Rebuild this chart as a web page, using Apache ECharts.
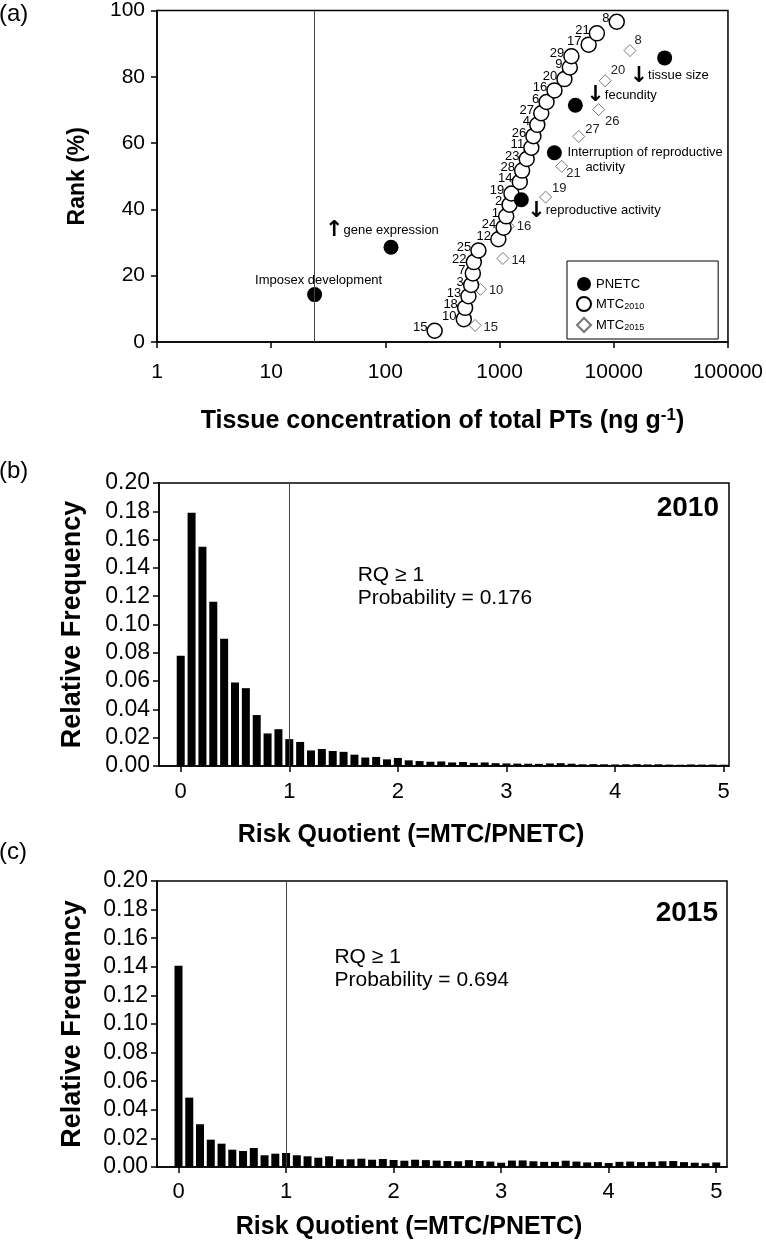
<!DOCTYPE html>
<html>
<head>
<meta charset="utf-8">
<title>PTs tissue concentration and risk quotient</title>
<script src="https://cdn.jsdelivr.net/npm/echarts@6/dist/echarts.min.js"></script>
<style>
    html, body {margin: 0; padding: 0; background: #fff;}
    #main {width: 766px; height: 1241px;}
</style>
</head>
<body>
<div id="main"></div>
<script>
/*
* (a) 物种敏感度分布 + (b)(c) 风险商分布
* */

// ---- (a) data ----
var pnetcX = [24, 112, 1550, 3020, 4610, 27900];
var pnetcY = [14.3, 28.6, 42.9, 57.1, 71.4, 85.7];
var pnetcEffect = ['Imposex development', 'gene expression', 'reproductive activity',
    'Interruption of reproductive activity', 'fecundity', 'tissue size'];
var pnetcArrow = ['', 'up', 'down', '', 'down', 'down'];

var mtc2010Id = ['15', '10', '18', '13', '3', '7', '22', '25', '12', '24', '1', '2', '19', '14',
    '28', '23', '11', '26', '4', '27', '6', '16', '20', '9', '29', '17', '21', '8'];
var mtc2010X = [270, 486, 499, 534, 563, 583, 595, 653, 975, 1084, 1143, 1222, 1270, 1503,
    1575, 1728, 1898, 1977, 2139, 2317, 2578, 3026, 3698, 4121, 4257, 6025, 7116, 10620];
var mtc2010Y = [3.4, 6.9, 10.3, 13.8, 17.2, 20.7, 24.1, 27.6, 31.0, 34.5, 37.9, 41.4, 44.8, 48.3,
    51.7, 55.2, 58.6, 62.1, 65.5, 69.0, 72.4, 75.9, 79.3, 82.8, 86.2, 89.7, 93.1, 96.6];

var mtc2015Id = ['15', '10', '14', '16', '19', '21', '27', '26', '20', '8'];
var mtc2015X = [610, 679, 1069, 1191, 2529, 3500, 4934, 7362, 8410, 13860];
var mtc2015Y = [5.0, 15.9, 25.2, 34.9, 43.7, 53.0, 62.0, 70.1, 78.8, 87.9];

var imposexLine = 24;

// ---- (b)(c) data ----
var rqBins = [0.0, 0.1, 0.2, 0.3, 0.4, 0.5, 0.6, 0.7, 0.8, 0.9,
    1.0, 1.1, 1.2, 1.3, 1.4, 1.5, 1.6, 1.7, 1.8, 1.9,
    2.0, 2.1, 2.2, 2.3, 2.4, 2.5, 2.6, 2.7, 2.8, 2.9,
    3.0, 3.1, 3.2, 3.3, 3.4, 3.5, 3.6, 3.7, 3.8, 3.9,
    4.0, 4.1, 4.2, 4.3, 4.4, 4.5, 4.6, 4.7, 4.8, 4.9, 5.0];
var freq2010 = [0.078, 0.179, 0.155, 0.116, 0.090, 0.059, 0.055, 0.036, 0.023, 0.026,
    0.019, 0.017, 0.011, 0.012, 0.0106, 0.010, 0.008, 0.006, 0.0064, 0.0047,
    0.0057, 0.0040, 0.0035, 0.0030, 0.0032, 0.0025, 0.0028, 0.0022, 0.0025, 0.0020,
    0.0018, 0.0017, 0.0016, 0.0015, 0.0018, 0.0020, 0.0016, 0.0012, 0.0013, 0.0012,
    0.0011, 0.0012, 0.0013, 0.0011, 0.0012, 0.0010, 0.0009, 0.0011, 0.0010, 0.0010, 0.0009];
var freq2015 = [0.1407, 0.0485, 0.0299, 0.0191, 0.0163, 0.0121, 0.0112, 0.0133, 0.0082, 0.0093,
    0.0098, 0.0082, 0.0075, 0.0065, 0.0075, 0.0054, 0.0054, 0.0058, 0.0051, 0.0056,
    0.0049, 0.0044, 0.0051, 0.0048, 0.0045, 0.0042, 0.0040, 0.0048, 0.0042, 0.0038,
    0.0030, 0.0045, 0.0046, 0.0040, 0.0036, 0.0036, 0.0044, 0.0038, 0.0032, 0.0034,
    0.0028, 0.0036, 0.0038, 0.0034, 0.0036, 0.0040, 0.0042, 0.0034, 0.0030, 0.0026, 0.0032];
var rqTicks = [0, 1, 2, 3, 4, 5];
var rqLimit = 1;
var prob2010 = 0.176;
var prob2015 = 0.694;

// ---- styles ----
var FONT = "'Liberation Sans', Arial, sans-serif";

// 标签偏移 (相对点中心)
var pnetcLabelOffset = [[4, -14], [-66, -17], [6, 11], [13, 7], [11, -10], [-35, 18]];
var mtc2015LabelOffset = [[0, 2], [0, 1], [0, 2], [0, 0], [-2, -9], [-4, 7], [-2, -7], [-2, 12], [-3, -10], [-4, -10]];

function arrowOf(dir) {
    if (dir === 'up') return '{arr|↑}';
    if (dir === 'down') return '{arr|↓}';
    return '';
}

function axisBase(idx) {
    return {
        gridIndex: idx,
        axisLine: {show: true, onZero: false, lineStyle: {color: '#000', width: 1.5}},
        axisTick: {show: true, inside: false, length: 6, lineStyle: {color: '#000', width: 1.5}},
        splitLine: {show: false},
        minorTick: {show: false}
    };
}

function ext(a, b) {
    for (var k in b) a[k] = b[k];
    return a;
}

var myChart = echarts.init(document.getElementById('main'));

var pnetcData = pnetcX.map(function (x, i) {
    var isTop = i === 0;
    var text;
    if (i === 3) {
        text = '{t|Interruption of reproductive}\n{t2|activity}';
    } else {
        text = arrowOf(pnetcArrow[i]) + '{t|' + pnetcEffect[i] + '}';
    }
    return {
        value: [x, pnetcY[i]],
        label: {
            show: true,
            position: 'inside',
            align: isTop ? 'center' : 'left',
            verticalAlign: 'middle',
            offset: pnetcLabelOffset[i],
            formatter: text
        }
    };
});

var mtc2010Data = mtc2010X.map(function (x, i) {
    return {value: [x, mtc2010Y[i]], name: mtc2010Id[i]};
});

var mtc2015Data = mtc2015X.map(function (x, i) {
    return {
        value: [x, mtc2015Y[i]], name: mtc2015Id[i],
        label: {offset: mtc2015LabelOffset[i]}
    };
});

function rqSeries(idx, freq, prob, textCoord) {
    return {
        name: 'RQ' + idx,
        type: 'bar',
        xAxisIndex: idx,
        yAxisIndex: idx,
        barWidth: 8,
        itemStyle: {color: '#000'},
        data: rqBins.map(function (x, i) {
            return [x, freq[i]];
        }),
        markLine: {
            silent: true,
            symbol: 'none',
            label: {show: false},
            lineStyle: {color: '#444', width: 1, type: 'solid'},
            data: [{xAxis: rqLimit}]
        },
        markPoint: {
            silent: true,
            symbol: 'circle',
            symbolSize: 0,
            data: [{
                coord: textCoord,
                label: {
                    show: true,
                    position: 'inside',
                    align: 'left',
                    verticalAlign: 'middle',
                    color: '#000',
                    fontFamily: FONT,
                    fontSize: 21,
                    lineHeight: 23,
                    formatter: 'RQ ≥ 1\nProbability = ' + prob.toFixed(3)
                }
            }]
        }
    };
}

var titleStyle = {fontSize: 24, fontWeight: 'normal', color: '#000', fontFamily: FONT};
var yearStyle = {fontSize: 28, fontWeight: 'bold', color: '#000', fontFamily: FONT};

var option = {
    animation: false,
    backgroundColor: '#fff',
    textStyle: {fontFamily: FONT, color: '#000'},
    title: [
        {text: '(a)', left: -1, top: 2, padding: 0, textStyle: titleStyle},
        {text: '(b)', left: -1, top: 459, padding: 0, textStyle: titleStyle},
        {text: '(c)', left: -1, top: 840, padding: 0, textStyle: titleStyle},
        {text: '2010', right: 47, top: 494, padding: 0, textStyle: yearStyle},
        {text: '2015', right: 48, top: 899, padding: 0, textStyle: yearStyle}
    ],
    legend: {
        orient: 'vertical',
        left: 567,
        top: 261,
        padding: [16, 74, 6, 9],
        itemGap: 5,
        itemWidth: 14,
        itemHeight: 14,
        borderColor: '#000',
        borderWidth: 1,
        data: ['PNETC', 'MTC2010', 'MTC2015'],
        formatter: function (n) {
            return n === 'PNETC' ? n : 'MTC{sub|' + n.slice(3) + '}';
        },
        textStyle: {
            fontSize: 13, color: '#000', fontFamily: FONT,
            rich: {sub: {fontSize: 9, padding: [6, 0, 0, 0], fontFamily: FONT}}
        }
    },
    grid: [
        {left: 157, top: 10, width: 575, height: 332, show: true, borderColor: '#000', borderWidth: 1.5},
        {left: 159, top: 483, width: 570, height: 283, show: true, borderColor: '#000', borderWidth: 1.5},
        {left: 157, top: 881, width: 570, height: 286, show: true, borderColor: '#000', borderWidth: 1.5}
    ],
    xAxis: [
        ext(axisBase(0), {
            type: 'log',
            logBase: 10,
            min: 1,
            max: 100000,
            axisLabel: {
                fontSize: 21, color: '#000', margin: 20, fontFamily: FONT,
                formatter: function (v) {
                    return String(Math.round(v));
                }
            },
            name: 'Tissue concentration of total PTs (ng g{sup|-1})',
            nameLocation: 'middle',
            nameGap: 79,
            nameTextStyle: {
                fontSize: 25, fontWeight: 'bold', color: '#000', fontFamily: FONT, verticalAlign: 'middle',
                rich: {sup: {fontSize: 17, fontWeight: 'bold', fontFamily: FONT, padding: [0, 0, 12, 0]}}
            }
        }),
        ext(axisBase(1), {
            type: 'value',
            min: -0.2,
            max: 5.05,
            axisTick: {show: true, length: 6, customValues: rqTicks, lineStyle: {color: '#000', width: 1.5}},
            axisLabel: {fontSize: 22, color: '#000', margin: 15, fontFamily: FONT, customValues: rqTicks},
            name: 'Risk Quotient (=MTC/PNETC)',
            nameLocation: 'middle',
            nameGap: 69,
            nameTextStyle: {fontSize: 25, fontWeight: 'bold', color: '#000', fontFamily: FONT, verticalAlign: 'middle', padding: [0, 66, 0, 0]}
        }),
        ext(axisBase(2), {
            type: 'value',
            min: -0.2,
            max: 5.1,
            axisTick: {show: true, length: 6, customValues: rqTicks, lineStyle: {color: '#000', width: 1.5}},
            axisLabel: {fontSize: 22, color: '#000', margin: 14, fontFamily: FONT, customValues: rqTicks},
            name: 'Risk Quotient (=MTC/PNETC)',
            nameLocation: 'middle',
            nameGap: 60,
            nameTextStyle: {fontSize: 25, fontWeight: 'bold', color: '#000', fontFamily: FONT, verticalAlign: 'middle', padding: [0, 66, 0, 0]}
        })
    ],
    yAxis: [
        ext(axisBase(0), {
            type: 'value',
            min: 0,
            max: 100,
            interval: 20,
            axisLabel: {fontSize: 21, color: '#000', margin: 12, fontFamily: FONT},
            name: 'Rank (%)',
            nameLocation: 'middle',
            nameGap: 79,
            nameTextStyle: {fontSize: 23, fontWeight: 'bold', color: '#000', fontFamily: FONT, verticalAlign: 'middle'}
        }),
        ext(axisBase(1), {
            type: 'value',
            min: 0,
            max: 0.2,
            interval: 0.02,
            axisLabel: {
                fontSize: 23, color: '#000', margin: 9, fontFamily: FONT,
                formatter: function (v) {
                    return v.toFixed(2);
                }
            },
            name: 'Relative Frequency',
            nameLocation: 'middle',
            nameGap: 86,
            nameTextStyle: {fontSize: 27, fontWeight: 'bold', color: '#000', fontFamily: FONT, verticalAlign: 'middle'}
        }),
        ext(axisBase(2), {
            type: 'value',
            min: 0,
            max: 0.2,
            interval: 0.02,
            axisLabel: {
                fontSize: 23, color: '#000', margin: 9, fontFamily: FONT,
                formatter: function (v) {
                    return v.toFixed(2);
                }
            },
            name: 'Relative Frequency',
            nameLocation: 'middle',
            nameGap: 84,
            nameTextStyle: {fontSize: 27, fontWeight: 'bold', color: '#000', fontFamily: FONT, verticalAlign: 'middle'}
        })
    ],
    series: [
        {
            name: 'MTC2015',
            type: 'scatter',
            xAxisIndex: 0,
            yAxisIndex: 0,
            symbol: 'diamond',
            symbolSize: 12,
            itemStyle: {color: '#fff', borderColor: '#777', borderWidth: 1, opacity: 1},
            label: {
                show: true,
                position: 'right',
                distance: 2,
                fontSize: 13,
                color: '#222',
                fontFamily: FONT,
                formatter: '{b}'
            },
            data: mtc2015Data
        },
        {
            name: 'MTC2010',
            type: 'scatter',
            xAxisIndex: 0,
            yAxisIndex: 0,
            symbol: 'circle',
            symbolSize: 15,
            itemStyle: {color: '#fff', borderColor: '#000', borderWidth: 1.5, opacity: 1},
            label: {
                show: true,
                position: 'left',
                distance: 1,
                offset: [2, -3],
                fontSize: 13,
                color: '#000',
                fontFamily: FONT,
                formatter: '{b}'
            },
            data: mtc2010Data
        },
        {
            name: 'PNETC',
            type: 'scatter',
            xAxisIndex: 0,
            yAxisIndex: 0,
            symbol: 'circle',
            symbolSize: 15,
            itemStyle: {color: '#000', borderColor: '#000', borderWidth: 0, opacity: 1},
            label: {
                color: '#000',
                fontFamily: FONT,
                rich: {
                    arr: {fontSize: 22, fontWeight: 'bold', fontFamily: 'DejaVu Sans', color: '#000', lineHeight: 22},
                    t: {fontSize: 13, fontFamily: FONT, color: '#000', lineHeight: 15},
                    t2: {fontSize: 13, fontFamily: FONT, color: '#000', lineHeight: 15, padding: [0, 0, 0, 18]}
                }
            },
            markLine: {
                silent: true,
                symbol: 'none',
                label: {show: false},
                lineStyle: {color: '#444', width: 1, type: 'solid'},
                data: [{xAxis: imposexLine}]
            },
            data: pnetcData
        },
        rqSeries(1, freq2010, prob2010, [1.63, 0.1265]),
        rqSeries(2, freq2015, prob2015, [1.45, 0.139])
    ]
};

myChart.setOption(option);
</script>
</body>
</html>
